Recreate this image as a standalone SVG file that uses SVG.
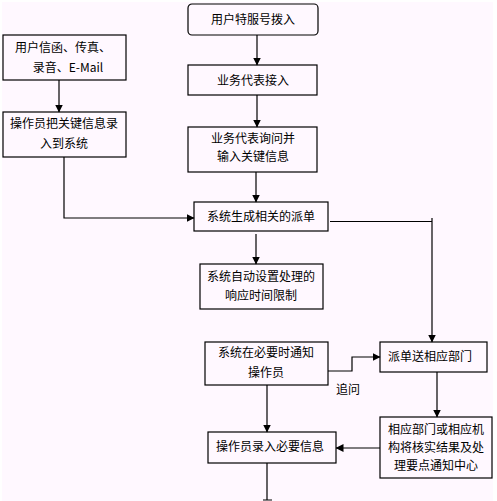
<svg xmlns="http://www.w3.org/2000/svg" width="497" height="501" viewBox="0 0 497 501">
<style>
.b{fill:none;stroke:#000;stroke-width:1.2}
.t{font-family:"Noto Sans CJK SC","Liberation Sans",sans-serif;font-size:12px;fill:#000;text-anchor:middle}
.c{fill:none;stroke:#000;stroke-width:1.2}
</style>
<defs>
<marker id="a" viewBox="0 0 8 8" refX="7.5" refY="4" markerWidth="8" markerHeight="8" markerUnits="userSpaceOnUse" orient="auto">
<path d="M0,0 L8,4 L0,8 Z" fill="#000"/>
</marker>
</defs>
<rect width="497" height="501" fill="#fff"/>
<rect x="2" y="2" width="491" height="499" fill="#FFF8FF"/>
<g id="connectors">
<path class="c" d="M257,35 V65" marker-end="url(#a)"/>
<path class="c" d="M257,95 V127" marker-end="url(#a)"/>
<path class="c" d="M256,172 V202" marker-end="url(#a)"/>
<path class="c" d="M59,80 V112" marker-end="url(#a)"/>
<path class="c" d="M64,157 V218 H194" marker-end="url(#a)"/>
<path class="c" d="M256,234 V264" marker-end="url(#a)"/>
<path class="c" d="M330,221.5 H432"/>
<path class="c" d="M432,218 V342" marker-end="url(#a)"/>
<path class="c" d="M328,371 H352 V357 H380" marker-end="url(#a)"/>
<path class="c" d="M437,372 V417" marker-end="url(#a)"/>
<path class="c" d="M267,385 V432" marker-end="url(#a)"/>
<path class="c" d="M380,448 H336" marker-end="url(#a)"/>
<path class="c" d="M267,463 V500 M263,500 H272"/>
<text class="t" x="348" y="394">追问</text>
</g>
<g id="n1"><rect class="b" x="188" y="4" width="130" height="31" rx="4"/><text class="t" x="253" y="24">用户特服号拨入</text></g>
<g id="n2"><rect class="b" x="188" y="65" width="129" height="30"/><text class="t" x="253" y="85">业务代表接入</text></g>
<g id="n3"><rect class="b" x="188" y="127" width="129" height="45"/><text class="t" x="253" y="143">业务代表询问并</text><text class="t" x="253" y="161">输入关键信息</text></g>
<g id="n4"><rect class="b" x="3" y="35" width="123" height="45"/><text class="t" x="63" y="52">用户信函、传真、</text><text class="t" x="68" y="72">录音、E-Mail</text></g>
<g id="n5"><rect class="b" x="3" y="112" width="123" height="45"/><text class="t" x="64" y="128">操作员把关键信息录</text><text class="t" x="64" y="148">入到系统</text></g>
<g id="n6"><rect class="b" x="194" y="202" width="134" height="29"/><text class="t" x="261" y="221">系统生成相关的派单</text></g>
<g id="n7"><rect class="b" x="200" y="264" width="123" height="45"/><text class="t" x="261" y="281">系统自动设置处理的</text><text class="t" x="261" y="300">响应时间限制</text></g>
<g id="n8"><rect class="b" x="205" y="342" width="123" height="43"/><text class="t" x="266" y="357">系统在必要时通知</text><text class="t" x="266" y="377">操作员</text></g>
<g id="n9"><rect class="b" x="380" y="342" width="107" height="30"/><text class="t" x="430" y="361">派单送相应部门</text></g>
<g id="n10"><rect class="b" x="380" y="417" width="112" height="61"/><text class="t" x="436" y="434">相应部门或相应机</text><text class="t" x="436" y="452">构将核实结果及处</text><text class="t" x="436" y="470">理要点通知中心</text></g>
<g id="n11"><rect class="b" x="208" y="432" width="128" height="31"/><text class="t" x="270" y="451">操作员录入必要信息</text></g>
</svg>
